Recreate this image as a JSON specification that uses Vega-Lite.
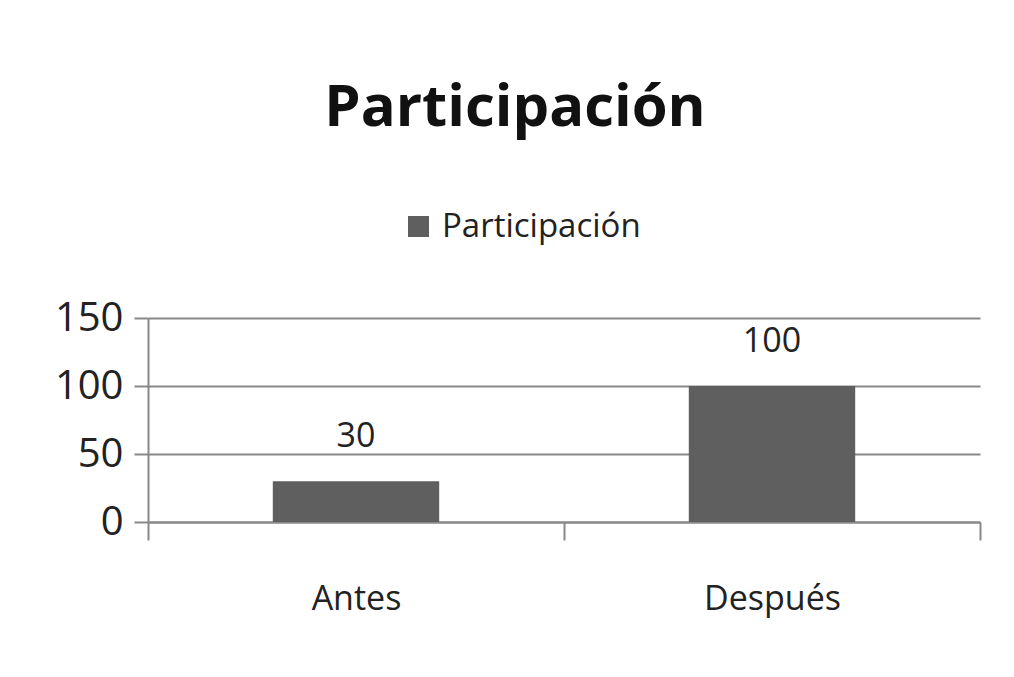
{
  "$schema": "https://vega.github.io/schema/vega-lite/v6.json",
  "autosize": {"type": "none"},
  "width": 832,
  "height": 204,
  "padding": {"left": 148, "top": 318, "right": 34, "bottom": 155},
  "background": "white",
  "config": {
    "view": {"stroke": null},
    "font": "Open Sans"
  },
  "title": {
    "text": "Participación",
    "font": "Open Sans",
    "fontSize": 58,
    "fontWeight": "bold",
    "color": "#111111",
    "anchor": "middle",
    "dx": -49,
    "offset": 72
  },
  "data": {
    "values": [
      {"momento": "Antes", "valor": 30, "serie": "Participación"},
      {"momento": "Después", "valor": 100, "serie": "Participación"}
    ]
  },
  "encoding": {
    "x": {
      "field": "momento",
      "type": "nominal",
      "sort": ["Antes", "Después"],
      "scale": {"paddingInner": 0, "paddingOuter": 0},
      "axis": {
        "title": null,
        "labelAngle": 0,
        "labelFontSize": 34,
        "labelColor": "#222222",
        "labelPadding": 42,
        "tickBand": "extent",
        "tickSize": 18,
        "tickColor": "#888888",
        "tickWidth": 2,
        "domainColor": "#888888",
        "domainWidth": 2,
        "grid": false
      }
    },
    "y": {
      "field": "valor",
      "type": "quantitative",
      "scale": {"domain": [0, 150]},
      "axis": {
        "title": null,
        "values": [0, 50, 100, 150],
        "labelFontSize": 40,
        "labelColor": "#222222",
        "labelPadding": 11,
        "tickSize": 14,
        "tickColor": "#888888",
        "tickWidth": 2,
        "domainColor": "#888888",
        "domainWidth": 2,
        "gridColor": "#888888",
        "gridWidth": 2,
        "gridOpacity": 1
      }
    }
  },
  "layer": [
    {
      "mark": {"type": "bar", "width": {"band": 0.4}, "color": "#5f5f5f"},
      "encoding": {
        "color": {
          "field": "serie",
          "type": "nominal",
          "scale": {"range": ["#5f5f5f"]},
          "legend": {
            "title": null,
            "orient": "none",
            "legendX": 254,
            "legendY": -108,
            "symbolType": "square",
            "symbolSize": 440,
            "symbolStrokeWidth": 0,
            "labelFontSize": 33,
            "labelLimit": 400,
            "labelOffset": 7,
            "labelColor": "#222222",
            "labelFont": "Open Sans"
          }
        }
      }
    },
    {
      "mark": {"type": "text", "dy": -34, "fontSize": 34, "color": "#222222", "baseline": "alphabetic"},
      "encoding": {
        "text": {"field": "valor", "type": "quantitative"}
      }
    }
  ]
}
